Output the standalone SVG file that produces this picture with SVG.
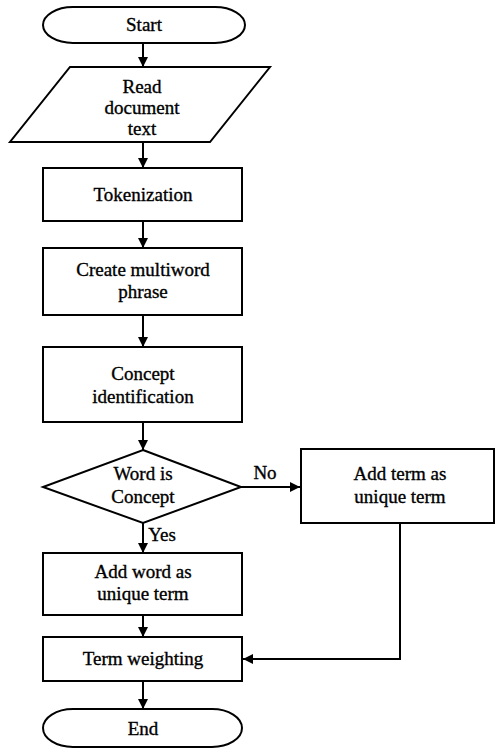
<svg xmlns="http://www.w3.org/2000/svg" width="495" height="749" viewBox="0 0 495 749">
  <style>
    .shape { fill: #fff; stroke: #000; stroke-width: 2; }
    .lbl { font-size: 19px; fill: #000; stroke: #000; stroke-width: 0.35; text-anchor: middle; }
    .edge { fill: none; stroke: #000; stroke-width: 2; }
  </style>
  <defs>
    <marker id="arrow" viewBox="0 0 10 10" refX="10" refY="5" markerWidth="10" markerHeight="10" markerUnits="userSpaceOnUse" orient="auto">
      <path d="M0,0 L10,5 L0,10 Z" fill="#000"/>
    </marker>
  </defs>
  <rect width="495" height="749" fill="#fff"/>

  <g font-family="Liberation Serif, DejaVu Serif, serif">
  <g id="connectors">
    <line class="edge" x1="143" y1="43" x2="143" y2="67" marker-end="url(#arrow)"/>
    <line class="edge" x1="143" y1="142" x2="143" y2="168" marker-end="url(#arrow)"/>
    <line class="edge" x1="143" y1="221" x2="143" y2="248" marker-end="url(#arrow)"/>
    <line class="edge" x1="143" y1="315" x2="143" y2="347" marker-end="url(#arrow)"/>
    <line class="edge" x1="143" y1="422" x2="143" y2="450" marker-end="url(#arrow)"/>
    <line class="edge" x1="241" y1="487" x2="300" y2="487" marker-end="url(#arrow)"/>
    <line class="edge" x1="143" y1="523" x2="143" y2="553" marker-end="url(#arrow)"/>
    <line class="edge" x1="143" y1="615" x2="143" y2="637" marker-end="url(#arrow)"/>
    <polyline class="edge" points="400,523 400,659 243,659" marker-end="url(#arrow)"/>
    <line class="edge" x1="143" y1="681" x2="143" y2="709" marker-end="url(#arrow)"/>
    <text class="lbl" x="265" y="479">No</text>
    <text class="lbl" x="162" y="541">Yes</text>
  </g>

  <g id="start">
    <rect class="shape" x="43" y="7" width="202" height="36" rx="30" ry="18"/>
    <text class="lbl" x="144" y="31">Start</text>
  </g>

  <g id="read">
    <polygon class="shape" points="70,67 270,67 210,142 10,142"/>
    <text class="lbl" x="142" y="93">Read</text>
    <text class="lbl" x="142" y="114">document</text>
    <text class="lbl" x="142" y="135">text</text>
  </g>

  <g id="tokenization">
    <rect class="shape" x="43" y="168" width="199" height="53"/>
    <text class="lbl" x="143" y="201">Tokenization</text>
  </g>

  <g id="multiword">
    <rect class="shape" x="43" y="248" width="199" height="67"/>
    <text class="lbl" x="143" y="276">Create multiword</text>
    <text class="lbl" x="143" y="298">phrase</text>
  </g>

  <g id="concept">
    <rect class="shape" x="43" y="347" width="199" height="75"/>
    <text class="lbl" x="143" y="380">Concept</text>
    <text class="lbl" x="143" y="403">identification</text>
  </g>

  <g id="decision">
    <polygon class="shape" points="143,450 241,487 143,523 43,487"/>
    <text class="lbl" x="143" y="480">Word is</text>
    <text class="lbl" x="143" y="503">Concept</text>
  </g>

  <g id="add-term">
    <rect class="shape" x="301" y="449" width="193" height="74"/>
    <text class="lbl" x="400" y="480">Add term as</text>
    <text class="lbl" x="400" y="503">unique term</text>
  </g>

  <g id="add-word">
    <rect class="shape" x="43" y="553" width="199" height="62"/>
    <text class="lbl" x="143" y="578">Add word as</text>
    <text class="lbl" x="143" y="600">unique term</text>
  </g>

  <g id="weighting">
    <rect class="shape" x="43" y="637" width="199" height="44"/>
    <text class="lbl" x="143" y="665">Term weighting</text>
  </g>

  <g id="end">
    <rect class="shape" x="43" y="709" width="199" height="38" rx="30" ry="19"/>
    <text class="lbl" x="143" y="735">End</text>
  </g>
  </g>
</svg>
